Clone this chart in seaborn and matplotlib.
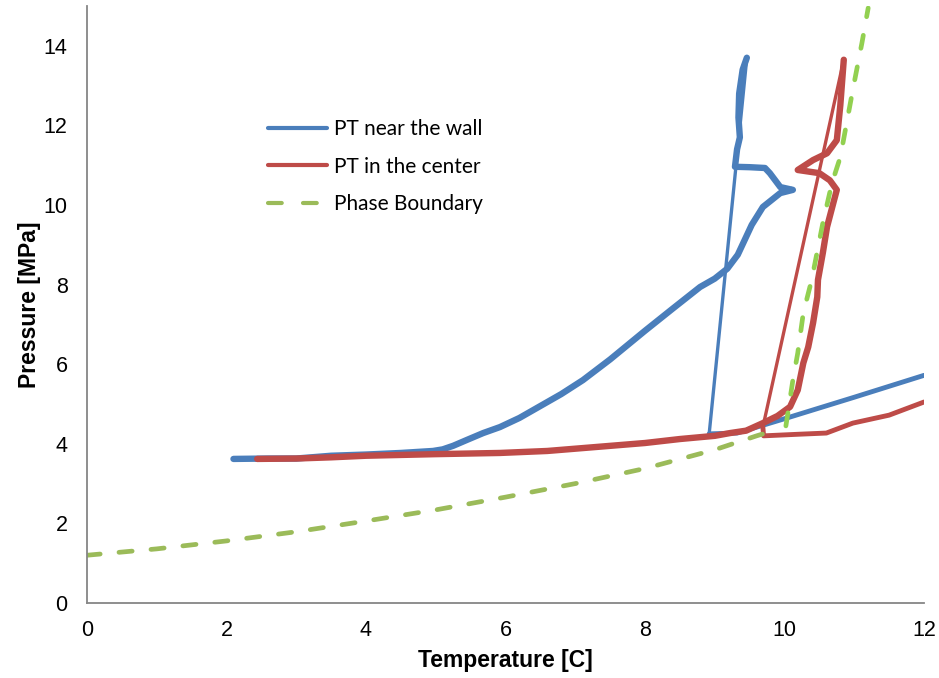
import numpy as np
import pandas as pd
import matplotlib
matplotlib.use("Agg")
import matplotlib.pyplot as plt
import seaborn as sns

# ---------------- data ----------------
# PT near the wall: dense measured path
wall_T = [2.10, 2.6, 3.0, 3.5, 4.0, 4.5, 4.96, 5.10, 5.25, 5.45, 5.68, 5.92, 6.2, 6.5,
          6.8, 7.11, 7.5, 8.0, 8.4, 8.79, 9.0, 9.18, 9.33, 9.53, 9.69, 9.94, 10.12,
          9.94, 9.79, 9.72, 9.50, 9.29, 9.32, 9.36, 9.34, 9.35, 9.40, 9.46]
wall_P = [3.62, 3.63, 3.63, 3.70, 3.73, 3.77, 3.82, 3.86, 3.95, 4.10, 4.27, 4.42, 4.65, 4.95,
          5.25, 5.60, 6.12, 6.84, 7.40, 7.94, 8.15, 8.40, 8.75, 9.50, 9.95, 10.30, 10.38,
          10.45, 10.80, 10.93, 10.95, 10.96, 11.40, 11.70, 12.20, 12.80, 13.40, 13.70]
# PT near the wall: fast jump (thin straight trace)
wall_jump_T = [9.46, 8.92]
wall_jump_P = [13.70, 4.25]
# PT near the wall: final warming branch
wall_end_T = [8.92, 9.32, 10.0, 11.0, 12.0]
wall_end_P = [4.25, 4.27, 4.63, 5.17, 5.72]

# PT in the center: dense measured path
center_T = [2.44, 3.0, 3.5, 4.0, 4.5, 5.0, 5.92, 6.6, 7.3, 8.0, 8.5, 9.0, 9.22, 9.45,
            9.69, 9.90, 10.08, 10.19, 10.27, 10.34, 10.41, 10.47, 10.48, 10.55, 10.61,
            10.70, 10.75, 10.65, 10.50, 10.19, 10.41, 10.61, 10.75, 10.80, 10.85]
center_P = [3.62, 3.63, 3.66, 3.70, 3.72, 3.74, 3.77, 3.82, 3.92, 4.02, 4.12, 4.20, 4.27, 4.33,
            4.52, 4.70, 4.93, 5.35, 6.03, 6.43, 7.04, 7.69, 8.12, 8.80, 9.45,
            10.05, 10.38, 10.62, 10.80, 10.88, 11.13, 11.30, 11.63, 12.50, 13.65]
center_jump_T = [10.85, 9.69]
center_jump_P = [13.65, 4.42]
center_end_T = [9.69, 9.70, 10.20, 10.60, 10.98, 11.50, 12.00]
center_end_P = [4.42, 4.20, 4.24, 4.27, 4.52, 4.72, 5.05]

# Phase boundary (hydrate-gas part and hydrate-liquid part)
pb_low_T = [0.0, 1.0, 2.0, 3.0, 4.0, 5.0, 6.0, 7.0, 8.0, 9.0, 9.6, 9.9]
pb_low_P = [1.20, 1.36, 1.56, 1.79, 2.06, 2.34, 2.66, 3.00, 3.38, 3.85, 4.20, 4.36]
pb_high_T = [10.02, 10.06, 10.12, 10.19, 10.27, 10.39, 10.55, 10.68, 10.80, 10.98, 11.11, 11.20]
pb_high_P = [4.45, 4.90, 5.60, 6.28, 7.29, 8.12, 9.55, 10.55, 11.20, 12.90, 14.07, 14.95]

x_ticks = [0, 2, 4, 6, 8, 10, 12]
y_ticks = [0, 2, 4, 6, 8, 10, 12, 14]

labels = ["PT near the wall", "PT in the center", "Phase Boundary"]
BLUE = "#4A7EBB"
RED = "#BE4B48"
GREEN_LOW = "#9BBB59"
GREEN_HIGH = "#92D050"
GRAY = "#868686"

# ---------------- plotting ----------------
sns.set_style("white")
plt.rcParams["font.family"] = ["Liberation Sans", "DejaVu Sans"]

fig = plt.figure(figsize=(9.39, 6.78), dpi=100)
ax = fig.add_axes([87 / 939, 1 - 603 / 678, (924 - 87) / 939, (603 - 6) / 678])

def seg(x, y, color, lw, label=None):
    sns.lineplot(x=x, y=y, sort=False, estimator=None, color=color, lw=lw,
                 label=label, ax=ax, solid_capstyle="round", solid_joinstyle="round")

# wall
seg(wall_T, wall_P, BLUE, 4.6, labels[0])
seg(wall_jump_T, wall_jump_P, BLUE, 2.4)
seg(wall_end_T, wall_end_P, BLUE, 3.5)
# center
seg(center_T, center_P, RED, 4.6, labels[1])
seg(center_jump_T, center_jump_P, RED, 2.4)
seg(center_end_T, center_end_P, RED, 3.5)
# phase boundary
sns.lineplot(x=pb_low_T, y=pb_low_P, sort=False, estimator=None, color=GREEN_LOW, lw=3.4,
             label=labels[2], ax=ax)
sns.lineplot(x=pb_high_T, y=pb_high_P, sort=False, estimator=None, color=GREEN_HIGH, lw=3.4,
             ax=ax)
for ln in ax.get_lines()[-2:]:
    ln.set_dashes((2.8, 4.0))
    ln.set_dash_capstyle("round")

ax.set_xlim(0, 12)
ax.set_ylim(0, 15)
ax.set_xticks(x_ticks)
ax.set_yticks(y_ticks)
ax.set_xticklabels([str(t) for t in x_ticks])
ax.set_yticklabels([str(t) for t in y_ticks])

for s in ["top", "right"]:
    ax.spines[s].set_visible(False)
for s in ["left", "bottom"]:
    ax.spines[s].set_color(GRAY)
    ax.spines[s].set_linewidth(1.3)

ax.tick_params(axis="both", which="major", direction="out", length=5, width=1.1,
               color=GRAY, labelsize=15.5, labelcolor="black")
ax.tick_params(axis="y", pad=9)
ax.tick_params(axis="x", pad=7)
ax.grid(False)

ax.set_xlabel("Temperature [C]", fontsize=16.5, fontweight="bold", labelpad=6, color="black")
ax.set_ylabel("Pressure [MPa]", fontsize=16.5, fontweight="bold", labelpad=2, color="black")

handles, labs = ax.get_legend_handles_labels()
leg = ax.legend(handles, labs, loc="upper left", frameon=False,
                bbox_to_anchor=(268 / 939, 1 - 119 / 678), bbox_transform=fig.transFigure,
                borderaxespad=0, borderpad=0, handlelength=2.85, handletextpad=0.3,
                labelspacing=0.85, prop={"family": ["Lato", "DejaVu Sans"], "size": 15})
for t in leg.get_texts():
    t.set_color("black")
for ln in leg.get_lines():
    ln.set_linewidth(3.0)
    ln.set_solid_capstyle("round")
leg.get_lines()[2].set_dashes((3.3, 5.1))
leg.get_lines()[2].set_dash_capstyle("round")

fig.savefig("out.png", dpi=100, facecolor="white")
